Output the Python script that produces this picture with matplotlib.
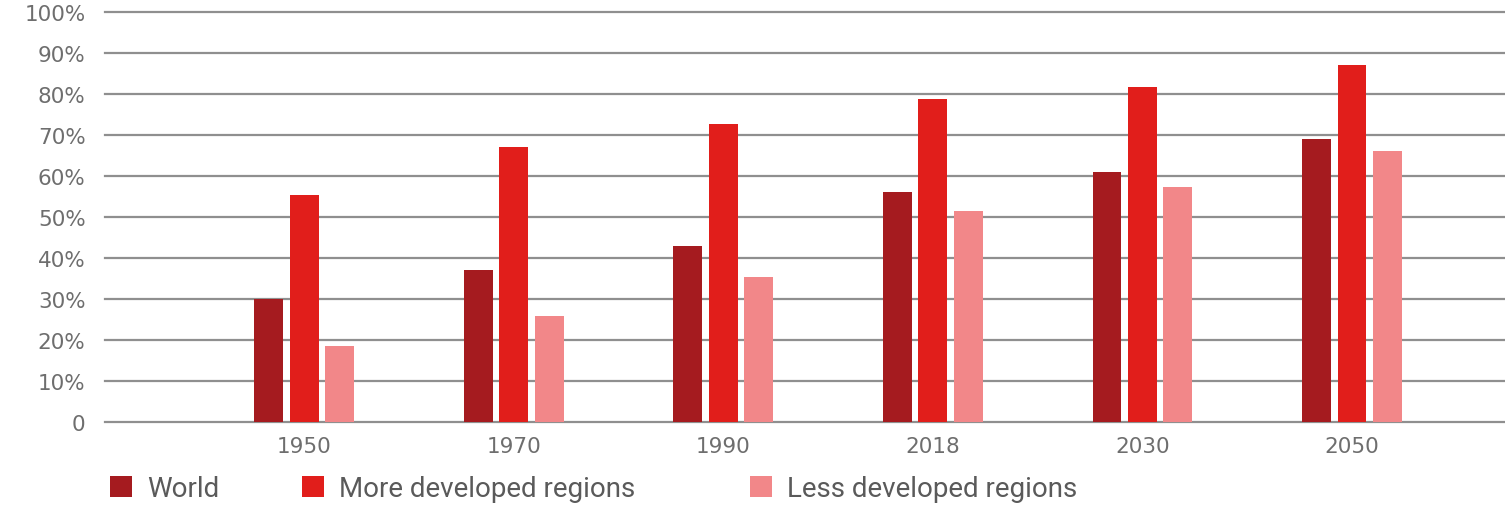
import numpy as np
import matplotlib.pyplot as plt
from matplotlib.patches import Patch

years = ['1950', '1970', '1990', '2018', '2030', '2050']
world = [30.0, 37.0, 43.0, 56.0, 61.0, 69.0]
more_dev = [55.4, 67.0, 72.6, 78.8, 81.7, 87.2]
less_dev = [18.6, 25.8, 35.4, 51.4, 57.4, 66.1]
series_names = ['World', 'More developed regions', 'Less developed regions']
colors = ['#a51b1f', '#e11e1b', '#f28789']
yticks = [0, 10, 20, 30, 40, 50, 60, 70, 80, 90, 100]
ytick_labels = ['0'] + [f'{v}%' for v in yticks[1:]]

tick_font = ['DejaVu Sans']
legend_font = ['Roboto', 'DejaVu Sans']

fig = plt.figure(figsize=(15.05, 5.06), dpi=100)
ax = fig.add_axes([0.0698, 0.164, 0.9302, 0.810])

x = np.arange(len(years))
w = 0.138
step = 0.169
for i, vals in enumerate([world, more_dev, less_dev]):
    ax.bar(x + (i - 1) * step, vals, width=w, color=colors[i], zorder=3,
           edgecolor='none')

ax.set_ylim(0, 100)
ax.set_xlim(-0.95, 5.73)
ax.set_yticks(yticks)
ax.set_yticklabels(ytick_labels, fontsize=15.5, color='#6e6e6e', family=tick_font)
ax.set_xticks(x)
ax.set_xticklabels(years, fontsize=15.5, color='#6e6e6e', family=tick_font)
ax.tick_params(length=0)
ax.tick_params(axis='y', pad=14)
ax.tick_params(axis='x', pad=10)
for y in yticks:
    ax.axhline(y, color='#8f8f8f', lw=1.6, zorder=1, clip_on=False)
for s in ax.spines.values():
    s.set_visible(False)

# one legend entry each, so every swatch sits where the reference has it
legend_x = [110, 302, 750]
for name, c, lx in zip(series_names, colors, legend_x):
    leg = fig.legend([Patch(facecolor=c, edgecolor='none')], [name],
                     loc='center left', bbox_to_anchor=(lx / 1505, 1 - 490 / 506),
                     frameon=False, handlelength=0.78, handleheight=0.78,
                     handletextpad=0.55, borderpad=0, borderaxespad=0,
                     prop={'family': legend_font, 'size': 20}, labelcolor='#5a5a5a')

fig.savefig('out.png', dpi=100)
